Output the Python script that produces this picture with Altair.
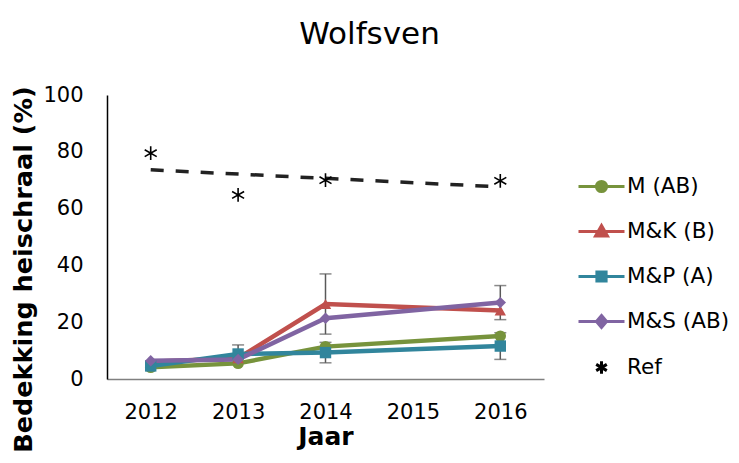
import altair as alt
import pandas as pd

# ---- data ----
years = [2012, 2013, 2014, 2016]
series_names = ["M (AB)", "M&K (B)", "M&P (A)", "M&S (AB)"]
m_ab = [4.1, 5.5, 11.4, 15.1]
mk_b = [6.1, 7.3, 26.4, 24.1]
mp_a = [4.6, 8.8, 9.3, 11.6]
ms_ab = [6.4, 6.9, 21.4, 26.9]
m_ab_err = [0, 0, 0, 0]
mk_b_err = [0, 0, 10.6, 0]
mp_a_err = [0, 3.2, 3.6, 4.7]
ms_ab_err = [0, 0, 0, 6.0]
ref_name = "Ref"
ref_values = [79.5, 64.8, 70.0, 69.8]
x_ticks = [2012, 2013, 2014, 2015, 2016]
y_ticks = [0, 20, 40, 60, 80, 100]

colors = ["#77933C", "#C0504D", "#31859C", "#8064A2"]
ref_color = "#000000"
marker_shapes = ["circle", "triangle-up", "square", "diamond"]
asterisk = "M0,-1L0,1M-0.87,-0.5L0.87,0.5M-0.87,0.5L0.87,-0.5"
legend_paths = [
    "M-1,0L1,0M-0.22,0A0.22,0.22,0,1,1,0.22,0A0.22,0.22,0,1,1,-0.22,0Z",
    "M-1,0L1,0M0,-0.26L0.26,0.2L-0.26,0.2Z",
    "M-1,0L1,0M-0.2,-0.2L0.2,-0.2L0.2,0.2L-0.2,0.2Z",
    "M-1,0L1,0M0,-0.26L0.22,0L0,0.26L-0.22,0Z",
    "M0,-0.27L0,0.27M-0.23,-0.135L0.23,0.135M-0.23,0.135L0.23,-0.135",
]

rows = []
for name, vals, errs in zip(series_names, [m_ab, mk_b, mp_a, ms_ab],
                            [m_ab_err, mk_b_err, mp_a_err, ms_ab_err]):
    for y, v, e in zip(years, vals, errs):
        rows.append({"series": name, "year": y, "value": v, "err": e})
df = pd.DataFrame(rows)
ref_df = pd.DataFrame({"series": ref_name, "year": years, "value": ref_values})
legend_df = pd.concat([df, ref_df], ignore_index=True)
legend_order = series_names + [ref_name]

FONT = "DejaVu Sans"

X = alt.X("year:Q",
          scale=alt.Scale(domain=[2011.5, 2016.5], nice=False, zero=False),
          axis=alt.Axis(values=x_ticks, format="d", title="Jaar", ticks=False, grid=False,
                        labelFontSize=21, titleFontSize=25, titleFontWeight="bold",
                        labelFont=FONT, titleFont=FONT, labelColor="#000", titleColor="#000",
                        domainColor="#808080", domainWidth=1.5, labelPadding=22, titlePadding=2))


def Y(field):
    return alt.Y(f"{field}:Q",
                 scale=alt.Scale(domain=[0, 100], nice=False),
                 axis=alt.Axis(values=y_ticks, title="Bedekking heischraal (%)", ticks=False, grid=False,
                               labelFontSize=21, titleFontSize=25.5, titleFontWeight="bold",
                               labelFont=FONT, titleFont=FONT, labelColor="#000", titleColor="#000",
                               domainColor="#000", domainWidth=1.5, labelPadding=24, titlePadding=6,
                               titleY=174))


color_scale = alt.Scale(domain=series_names, range=colors)

errs = alt.Chart(df).transform_filter("datum.err > 0").transform_calculate(
    lo="datum.value - datum.err", hi="datum.value + datum.err")
err_rule = errs.mark_rule(color="#595959", strokeWidth=1.5).encode(x=X, y=Y("lo"), y2="hi:Q")
err_caps = errs.transform_fold(["lo", "hi"], as_=["end", "pos"]).mark_tick(
    orient="horizontal", size=12, thickness=1.5, color="#595959").encode(x=X, y=Y("pos"))

lines = alt.Chart(df).mark_line(strokeWidth=4.5).encode(
    x=X, y=Y("value"),
    color=alt.Color("series:N", scale=color_scale, legend=None),
    detail="series:N")

points = alt.Chart(df).mark_point(filled=True, size=130, opacity=1).encode(
    x=X, y=Y("value"),
    color=alt.Color("series:N", scale=color_scale, legend=None),
    shape=alt.Shape("series:N", scale=alt.Scale(domain=series_names, range=marker_shapes), legend=None))

trend = alt.Chart(ref_df).transform_regression("year", "value", extent=[2012, 2016]).mark_line(
    color="#222222", strokeWidth=3.5, strokeDash=[13, 12]).encode(x=X, y=Y("value"))

ref_pts = alt.Chart(ref_df).mark_point(shape=asterisk, size=190, filled=False, stroke="#000",
                                       strokeWidth=1.6, opacity=1).encode(x=X, y=Y("value"))

leg = dict(title=None, orient="none", legendX=470, legendY=67, labelFontSize=21.5, labelFont=FONT,
           labelColor="#000", labelOffset=1, rowPadding=9, symbolSize=2116, padding=0,
           labelLimit=300)
all_colors = colors + [ref_color]
legend_layer = alt.Chart(legend_df).transform_filter("datum.value > 1000").mark_point(
    size=2116, opacity=1, filled=True).encode(
    x=X, y=Y("value"),
    fill=alt.Fill("series:N", scale=alt.Scale(domain=legend_order, range=all_colors), legend=alt.Legend(**leg)),
    stroke=alt.Stroke("series:N", scale=alt.Scale(domain=legend_order, range=all_colors), legend=alt.Legend(**leg)),
    shape=alt.Shape("series:N", scale=alt.Scale(domain=legend_order, range=legend_paths), legend=alt.Legend(**leg)),
    strokeWidth=alt.StrokeWidth("series:N", scale=alt.Scale(domain=legend_order, range=[3, 3, 3, 3, 1.6]),
                                legend=alt.Legend(**leg)),
)

chart = alt.layer(err_rule, err_caps, lines, points, trend, ref_pts, legend_layer).resolve_scale(
    shape="independent", color="independent", fill="independent", stroke="independent",
    strokeWidth="independent"
).properties(
    width=437, height=284,
    padding={"left": 99, "top": 87, "right": 187, "bottom": 80},
    autosize=alt.AutoSizeParams(type="none"),
    title=alt.TitleParams("Wolfsven", fontSize=31, fontWeight="normal", font=FONT, color="#000",
                          anchor="middle", dx=44, offset=9, baseline="alphabetic"),
).configure(font=FONT).configure_view(stroke=None)

chart.save("out.html", embed_options={"renderer": "svg", "actions": False})
